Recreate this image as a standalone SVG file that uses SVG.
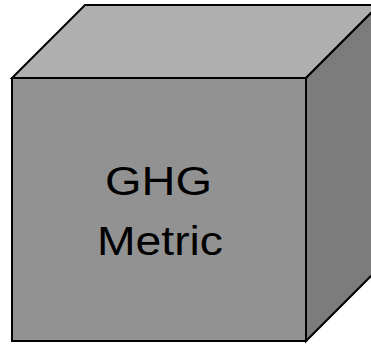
<svg xmlns="http://www.w3.org/2000/svg" width="371" height="346" viewBox="0 0 371 346">
<style>
.e{stroke:#000;stroke-width:2;stroke-linejoin:miter}
.t{font-family:"Liberation Sans",Arial,sans-serif;font-size:41px;fill:#000}
</style>
<g id="cube">
<polygon class="e" points="12,78 85,5 379,5 306,78" fill="#afafaf"/>
<polygon class="e" points="306,78 379,5 379,268 306,341" fill="#7c7c7c"/>
<rect class="e" x="12" y="78" width="294" height="263" fill="#929292"/>
<text class="t" x="105" y="195" textLength="107" lengthAdjust="spacingAndGlyphs">GHG</text>
<text class="t" x="97" y="255" textLength="126" lengthAdjust="spacingAndGlyphs">Metric</text>
</g>
</svg>
